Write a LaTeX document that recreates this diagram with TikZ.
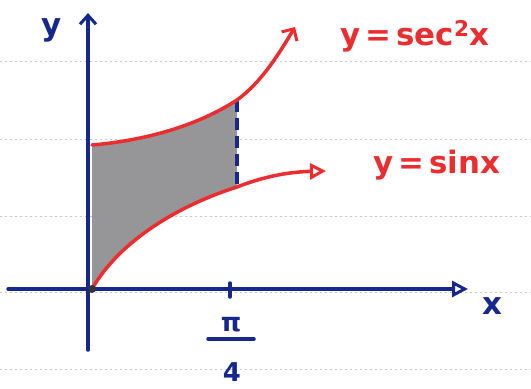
\documentclass[tikz,border=0pt]{standalone}
\usepackage{fontspec}
\setmainfont{DejaVu Sans}
\usetikzlibrary{arrows.meta}
\definecolor{penblue}{RGB}{22,40,140}
\definecolor{penred}{RGB}{236,45,48}
\definecolor{pencilgray}{RGB}{150,150,152}
\definecolor{ruled}{RGB}{200,200,205}
\tikzset{
  axis/.style={penblue, line width=3.5bp, line cap=round},
  curve/.style={penred, line width=3.5bp, line cap=round},
  ruling/.style={ruled, line width=1bp, dash pattern=on 1.5bp off 3.5bp},
  lbl/.style={inner sep=0pt, font=\fontsize{31}{31}\selectfont\bfseries},
}
\begin{document}
\begin{tikzpicture}[x=1bp,y=-1bp]
\useasboundingbox (0,0) rectangle (531,388);
\fill[white] (0,0) rectangle (531,388);
% ruled paper
\foreach \yy in {61,139,216,292,369} \draw[ruling] (0,\yy) -- (531,\yy);
% coordinates
\coordinate (O) at (92,289);
\coordinate (A) at (92,145);
\coordinate (B) at (237,100);
\coordinate (C) at (237,187);
\coordinate (Send) at (295,27);
\coordinate (Tend) at (326,171);
% shading
\fill[pencilgray] (A) .. controls (150,140) and (200,124) .. (B) -- (C)
   .. controls (180,205) and (120,240) .. (O) -- cycle;
% axes
\coordinate (xs) at (8,289);
\coordinate (xe) at (468,289);
\coordinate (ys) at (88,350);
\coordinate (ye) at (88,13);
\draw[axis, -{Straight Barb[length=9bp,width=16bp,line width=3bp]}] (ys) -- (ye);
\draw[axis, -{Triangle[open,length=16bp,width=16bp,line width=3bp,fill=white]}] (xs) -- (xe);
\coordinate (tk1) at (230,283);
\coordinate (tk2) at (230,297);
\draw[axis] (tk1) -- (tk2);
% dashed line
\draw[penblue, line width=3.5bp, dash pattern=on 12bp off 6bp] (B) -- (C);
% curves
\draw[curve, -{Straight Barb[length=9bp,width=18bp,line width=3bp]}]
  (A) .. controls (150,140) and (200,124) .. (B)
      .. controls (262,82) and (280,52) .. (Send);
\draw[curve, -{Triangle[open,length=16bp,width=16bp,line width=3bp,fill=white]}]
  (O) .. controls (120,240) and (180,205) .. (C)
      .. controls (260,178) and (285,172) .. (Tend);
\fill[black!80] (O) circle (4bp);
% labels
\node[lbl, text=penblue] (ylab) at (52,30) {y};
\node[lbl, text=penblue] (xlab) at (492,306) {x};
\node[lbl, text=penblue, font=\fontsize{26}{26}\selectfont\bfseries] (pi) at (231,325) {π};
\coordinate (fb1) at (208,339);
\coordinate (fb2) at (254,339);
\draw[axis] (fb1) -- (fb2);
\node[lbl, text=penblue, font=\fontsize{26}{26}\selectfont\bfseries] (four) at (232,372) {4};
\node[lbl, text=penred, anchor=west] (sec) at (340,36) {y\,=\,sec\textsuperscript{2}x};
\node[lbl, text=penred, anchor=west] (sin) at (373,165) {y\,=\,sinx};
\end{tikzpicture}
\end{document}
